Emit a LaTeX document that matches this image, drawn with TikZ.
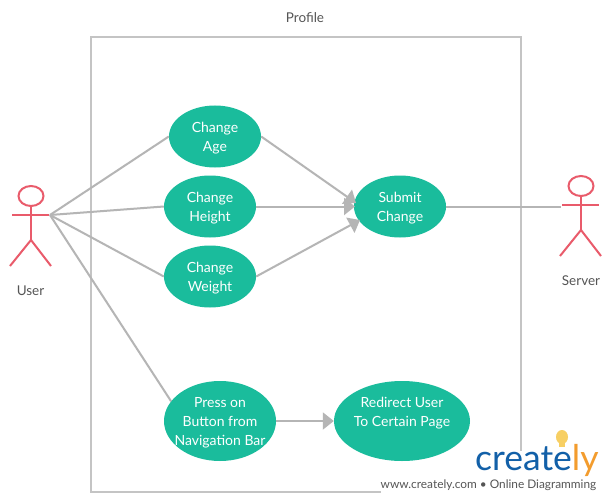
\documentclass[tikz,border=0pt]{standalone}
\usepackage{fontspec}
\setmainfont{Lato}
\usetikzlibrary{shapes.geometric,arrows.meta}
\definecolor{teal}{HTML}{1ABC9C}
\definecolor{conn}{HTML}{B5B5B5}
\definecolor{frame}{HTML}{C4C4C4}
\definecolor{actorc}{HTML}{E95B6B}
\definecolor{labelc}{HTML}{555555}
\definecolor{logob}{HTML}{1260A8}
\definecolor{logoo}{HTML}{F39C2D}
\definecolor{bulb}{HTML}{F7CF63}
\tikzset{
  usecase/.style={ellipse,fill=teal,inner sep=0pt},
  smallcase/.style={usecase,minimum width=92pt,minimum height=62pt},
  casetext/.style={text=white,align=center,inner sep=0pt,font=\fontsize{14}{19}\selectfont},
  caption/.style={text=labelc,inner sep=0pt,font=\fontsize{13.5}{16}\selectfont},
  link/.style={draw=conn,line width=2pt},
  arrowlink/.style={link,-{Triangle[length=11pt,width=17pt]}},
  actorline/.style={draw=actorc,line width=2pt},
  head/.style={ellipse,draw=actorc,line width=2pt,minimum width=25pt,minimum height=20pt,inner sep=0pt}
}
\begin{document}
\begin{tikzpicture}[x=1pt,y=-1pt]
\useasboundingbox (0,0) rectangle (610,500);
\fill[white] (0,0) rectangle (610,500);
% system boundary
\draw[draw=frame,line width=2.5pt] (91,37) rectangle (521,492);
\fill[white] (381,451) rectangle (610,500);
\node[caption] (profile) at (305,18) {Profile};
% use cases
\node[smallcase,label={[casetext,yshift=-2pt]center:{Change\\Age}}] (age) at (215,136.5) {};
\node[smallcase,label={[casetext,yshift=-2pt]center:{Change\\Height}}] (height) at (210,206.5) {};
\node[smallcase,label={[casetext,yshift=-2pt]center:{Change\\Weight}}] (weight) at (210,276.5) {};
\node[smallcase,label={[casetext,yshift=-2pt]center:{Submit\\Change}}] (submit) at (400,206.5) {};
\node[usecase,minimum width=112pt,minimum height=80pt,label={[casetext,yshift=-2pt]center:{Press on\\Button from\\Navigation Bar}}] (press) at (220,421) {};
\node[usecase,minimum width=136pt,minimum height=80pt,label={[casetext,yshift=7.5pt]center:{Redirect User\\To Certain Page}}] (redirect) at (402,421) {};
% actors
\node[head] (userhead) at (31,196) {};
\coordinate (userhip) at (31,240);
\coordinate (userarmL) at (12,215);
\coordinate (userarmR) at (49,215);
\coordinate (userlegL) at (10,266);
\coordinate (userlegR) at (51,266);
\draw[actorline] (userhead) -- (userhip);
\draw[actorline] (userarmL) -- (userarmR);
\draw[actorline] (userlegL) -- (userhip) -- (userlegR);
\node[caption] (userlabel) at (30.5,290.5) {User};
\node[head] (serverhead) at (581,186) {};
\coordinate (serverhip) at (581,230);
\coordinate (serverarmL) at (562,205);
\coordinate (serverarmR) at (599,205);
\coordinate (serverlegL) at (560,256);
\coordinate (serverlegR) at (601,256);
\draw[actorline] (serverhead) -- (serverhip);
\draw[actorline] (serverarmL) -- (serverarmR);
\draw[actorline] (serverlegL) -- (serverhip) -- (serverlegR);
\node[caption] (serverlabel) at (581,281) {Server};
% connectors
\coordinate (userhand) at (50,215);
\coordinate (serverhand) at (561,206.5);
\coordinate (tipage) at (356,203);
\coordinate (tipheight) at (355,206.5);
\coordinate (tipweight) at (360,220);
\draw[link] (userhand) -- (age.west);
\draw[link] (userhand) -- (height.west);
\draw[link] (userhand) -- (weight.west);
\draw[link] (userhand) -- (press.158);
\draw[arrowlink] (age.east) -- (tipage);
\draw[arrowlink] (height.east) -- (tipheight);
\draw[arrowlink] (weight.east) -- (tipweight);
\draw[link] (submit.east) -- (serverhand);
\draw[arrowlink] (press.east) -- (redirect.west);
% logo
\node[inner sep=0pt,anchor=base west,text=logob,font=\fontsize{35.5}{36}\selectfont] (logo) at (475,470) {create\textcolor{logoo}{ly}};
\fill[bulb] (562,437) ellipse (6pt and 7pt);
\fill[bulb] (559,442) rectangle (565,447);
\node[caption,anchor=base,text=labelc,font=\fontsize{11.85}{14}\selectfont] (tagline) at (488.5,488) {www.creately.com • Online Diagramming};
\end{tikzpicture}
\end{document}
